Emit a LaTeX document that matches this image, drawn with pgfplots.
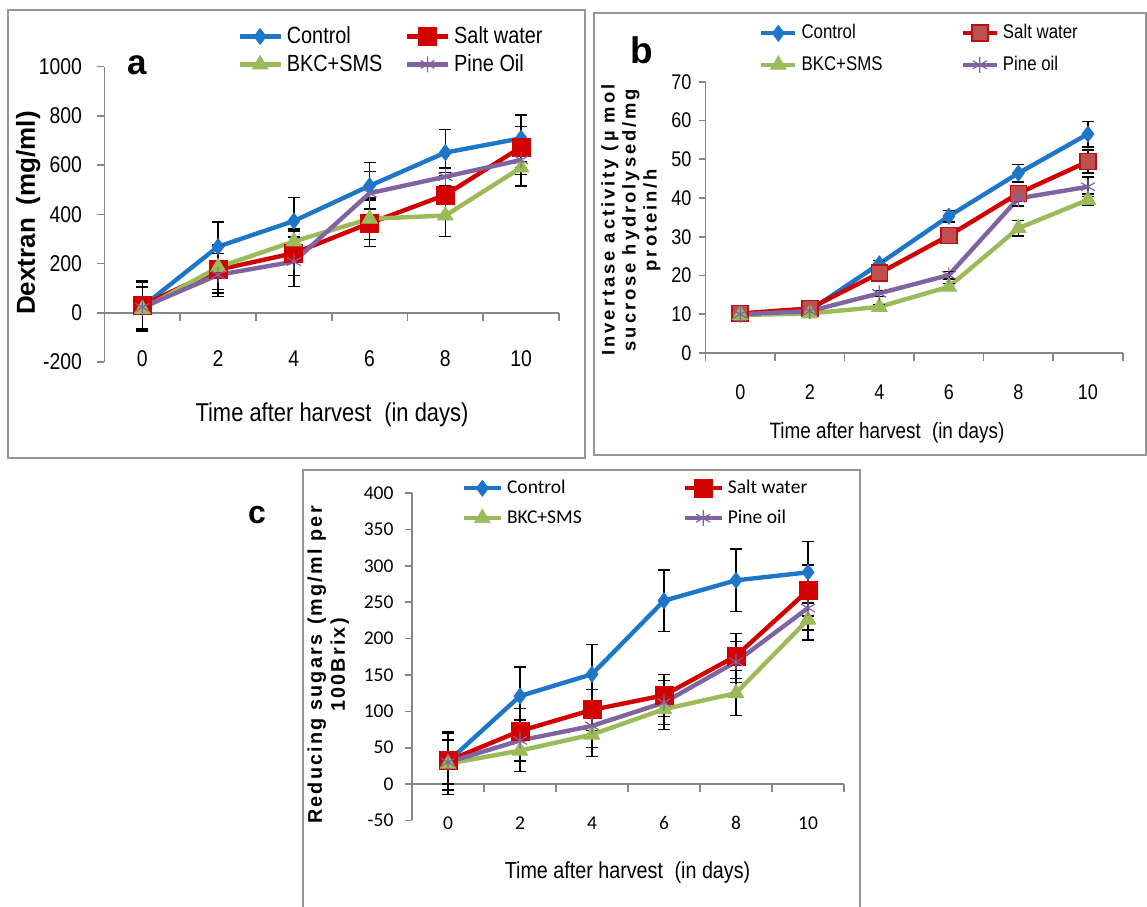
\documentclass[border=0pt]{standalone}
\usepackage{fontspec}
\setmainfont{Liberation Sans}
\newfontfamily\narrow[FakeStretch=0.85]{Liberation Sans}
\newfontfamily\calib{Carlito}
\newfontfamily\spaced[LetterSpace=16]{Liberation Sans}
\newfontfamily\spacedc[LetterSpace=11]{Liberation Sans}
\usepackage{pgfplots}
\usepackage{pgfplotstable}
\pgfplotsset{compat=1.18}

\definecolor{ctl}{RGB}{30,118,200}
\definecolor{salt}{RGB}{210,0,0}
\definecolor{saltfill}{RGB}{192,80,77}
\definecolor{saltdark}{RGB}{180,20,20}
\definecolor{bkc}{RGB}{155,187,89}
\definecolor{pine}{RGB}{128,100,162}
\definecolor{axgray}{RGB}{134,134,134}
\definecolor{framegray}{RGB}{150,150,150}

% day, value, error for each treatment
\pgfplotstableread{
x ctl ectl salt esalt bkc ebkc pine epine
0  25 100  30 100  15  90  22  86
2 269 100 175  95 185  90 154  88
4 373  95 242  90 290  50 208 100
6 516  95 364  95 382  85 486  87
8 651  95 479  90 395  85 553  35
10 709 95 673  85 590  75 621  60
}\dataA

\pgfplotstableread{
x ctl ectl salt esalt bkc ebkc pine epine
0  10.0 0.5 10.2 0.5  9.8 0.5 10.0 0.5
2  11.0 0.5 11.5 0.6 10.2 0.5 10.8 0.5
4  23.0 0.8 20.6 0.8 11.9 0.6 15.4 0.8
6  35.3 1.5 30.3 2.0 17.1 0.8 20.1 1.0
8  46.4 2.3 41.2 2.0 32.2 2.0 39.9 2.0
10 56.5 3.3 49.4 3.0 39.5 1.5 42.9 2.5
}\dataB

\pgfplotstableread{
x ctl ectl salt esalt bkc ebkc pine epine
0  31  30  32  40  28  42  30  30
2  121 40  73  31  46  29  60  28
4  151 41 102  28  68  30  80  30
6  252 42 122  29 103  28 112  30
8  280 43 176  31 125  31 168  28
10 291 42 266  35 226  28 242  30
}\dataC

\pgfplotsset{
  ctlS/.style={color=ctl, line width=2.2pt, mark=diamond*, mark size=4pt,
    mark options={fill=ctl, draw=ctl, line width=0.4pt}},
  saltS/.style={color=salt, line width=2.2pt, mark=square*, mark size=4.5pt,
    mark options={fill=salt, draw=salt, line width=0.4pt}},
  saltB/.style={color=salt, line width=2.2pt, mark=square*, mark size=4pt,
    mark options={fill=saltfill, draw=saltdark, line width=0.8pt}},
  bkcS/.style={color=bkc, line width=2.2pt, mark=triangle*, mark size=4.5pt,
    mark options={fill=bkc, draw=bkc, line width=0.4pt}},
  pineS/.style={color=pine, line width=2.2pt, mark=asterisk, mark size=4pt,
    mark options={draw=pine, line width=0.6pt}},
  eb/.style={error bars/.cd, y dir=both, y explicit,
    error bar style={black, line width=0.7pt},
    error mark options={black, rotate=90, mark size=3pt, line width=0.7pt}},
  base/.style={scale only axis, clip=false, anchor=south west,
    xmin=-1, xmax=11, xtick={0,2,...,10},
    axis y line*=left, axis x line*=bottom,
    x axis line style={draw=none}, xtick style={draw=none},
    y axis line style={axgray, line width=0.8pt},
    ytick style={axgray, line width=0.8pt},
    major tick length=3.5pt, tick align=outside,
    scaled y ticks=false,
    /pgf/number format/assume math mode=true,
    /pgf/number format/1000 sep={},
    xticklabel style={anchor=center},
    legend columns=2, legend cell align=left,
    legend style={draw=none, fill=none, anchor=north west, inner sep=0pt, outer sep=0pt}},
}

\begin{document}
\begin{tikzpicture}
\useasboundingbox (0,0) rectangle (573.5pt,453pt);
% panel frames
\draw[framegray, line width=1pt] (4pt,224pt) rectangle (292.5pt,448pt);
\draw[framegray, line width=1pt] (297pt,225.5pt) rectangle (573pt,446.5pt);
\draw[framegray, line width=1pt] (151.5pt,-1pt) -- (151.5pt,218pt) -- (430pt,218pt) -- (430pt,-1pt);

% ---------------- panel a
\begin{axis}[base, at={(52.25pt,272pt)}, width=227.25pt, height=147.65pt,
  ymin=-200, ymax=1000, ytick={-200,0,...,1000},
  yticklabel style={font=\narrow\fontsize{11.4}{13}\selectfont, xshift=-4.2pt},
  xticklabel style={font=\narrow\fontsize{11.4}{13}\selectfont, yshift=5pt},
  xlabel={Time after harvest\enspace(in days)},
  xlabel style={font=\narrow\fontsize{12.9}{15}\selectfont, at={(axis description cs:0.5005,-0.1795)}, anchor=center},
  ylabel={Dextran\enspace(mg/ml)},
  ylabel style={font=\bfseries\fontsize{13}{15}\selectfont, at={(axis description cs:-0.168,0.5046)}, anchor=center},
  legend style={at={(axis description cs:0.2924,1.1497)}, font=\narrow\fontsize{11.7}{13}\selectfont,
    /tikz/every even column/.append style={column sep=0pt}},
  legend image code/.code={\draw[mark repeat=2,mark phase=2] plot coordinates {(0pt,0pt)(10.25pt,0pt)(20.5pt,0pt)};}]
\draw[axgray, line width=0.8pt] (axis cs:-1,0) -- (axis cs:11,0);
\draw[axgray, line width=0.8pt] (axis cs:-1,0) -- ++(0pt,-4pt) (axis cs:1,0) -- ++(0pt,-4pt) (axis cs:3,0) -- ++(0pt,-4pt)
  (axis cs:5,0) -- ++(0pt,-4pt) (axis cs:7,0) -- ++(0pt,-4pt) (axis cs:9,0) -- ++(0pt,-4pt) (axis cs:11,0) -- ++(0pt,-4pt);
\addplot[ctlS, eb] table[x=x, y=ctl, y error=ectl] {\dataA};
\addlegendentry{\makebox[57pt][l]{Control}}
\addplot[saltS, eb] table[x=x, y=salt, y error=esalt] {\dataA};
\addlegendentry{Salt water}
\addplot[bkcS, eb] table[x=x, y=bkc, y error=ebkc] {\dataA};
\addlegendentry{\makebox[57pt][l]{BKC+SMS}}
\addplot[pineS, eb] table[x=x, y=pine, y error=epine] {\dataA};
\addlegendentry{Pine Oil}
\end{axis}

% ---------------- panel b
\begin{axis}[base, at={(352.75pt,276.5pt)}, width=208.6pt, height=135.65pt,
  ymin=0, ymax=70, ytick={0,10,...,70},
  yticklabel style={font=\narrow\fontsize{10.6}{12}\selectfont, xshift=0pt},
  xticklabel style={font=\narrow\fontsize{10.6}{12}\selectfont, yshift=-16pt},
  xlabel={Time after harvest\enspace(in days)},
  xlabel style={font=\narrow\fontsize{11.1}{13}\selectfont, at={(axis description cs:0.435,-0.295)}, anchor=center},
  ylabel={Invertase activity (µ mol\\sucrose hydrolysed/mg\\protein/h},
  ylabel style={font=\spaced\bfseries\fontsize{9.2}{10.5}\selectfont, align=center, at={(axis description cs:-0.1786,0.49)}, anchor=center},
  legend style={at={(axis description cs:0.1287,1.2252)}, font=\narrow\fontsize{9.9}{12}\selectfont,
    /tikz/every even column/.append style={column sep=0pt}, row sep=3.1pt},
  legend image code/.code={\draw[mark repeat=2,mark phase=2] plot coordinates {(0pt,0pt)(8.5pt,0pt)(17pt,0pt)};}]
\draw[axgray, line width=0.8pt] (axis cs:-1,0) -- (axis cs:11,0);
\draw[axgray, line width=0.8pt] (axis cs:-1,0) -- ++(0pt,-4pt) (axis cs:1,0) -- ++(0pt,-4pt) (axis cs:3,0) -- ++(0pt,-4pt)
  (axis cs:5,0) -- ++(0pt,-4pt) (axis cs:7,0) -- ++(0pt,-4pt) (axis cs:9,0) -- ++(0pt,-4pt) (axis cs:11,0) -- ++(0pt,-4pt);
\addplot[ctlS, eb] table[x=x, y=ctl, y error=ectl] {\dataB};
\addlegendentry{\makebox[77.5pt][l]{Control}}
\addplot[saltB, eb] table[x=x, y=salt, y error=esalt] {\dataB};
\addlegendentry{Salt water}
\addplot[bkcS, eb] table[x=x, y=bkc, y error=ebkc] {\dataB};
\addlegendentry{\makebox[77.5pt][l]{BKC+SMS}}
\addplot[pineS, eb] table[x=x, y=pine, y error=epine] {\dataB};
\addlegendentry{Pine oil}
\end{axis}

% ---------------- panel c
\begin{axis}[base, at={(206pt,42.75pt)}, width=216pt, height=163.75pt,
  ymin=-50, ymax=400, ytick={-50,0,...,400},
  yticklabel style={font=\calib\fontsize{9.75}{12}\selectfont, xshift=-2.25pt},
  xticklabel style={font=\calib\fontsize{9.75}{12}\selectfont, yshift=2.25pt},
  xlabel={Time after harvest\enspace(in days)},
  xlabel style={font=\narrow\fontsize{11.6}{14}\selectfont, at={(axis description cs:0.499,-0.16)}, anchor=center},
  ylabel={Reducing sugars\enspace(mg/ml per\\100Brix)},
  ylabel style={font=\spacedc\bfseries\fontsize{9.9}{11.5}\selectfont, align=center, at={(axis description cs:-0.194,0.475)}, anchor=center},
  legend style={at={(axis description cs:0.115,1.052)}, font=\calib\fontsize{9.75}{12}\selectfont,
    /tikz/every even column/.append style={column sep=0pt}, row sep=2.7pt},
  legend image code/.code={\draw[mark repeat=2,mark phase=2] plot coordinates {(0pt,0pt)(9.25pt,0pt)(18.5pt,0pt)};}]
\draw[axgray, line width=0.8pt] (axis cs:-1,0) -- (axis cs:11,0);
\draw[axgray, line width=0.8pt] (axis cs:-1,0) -- ++(0pt,-4pt) (axis cs:1,0) -- ++(0pt,-4pt) (axis cs:3,0) -- ++(0pt,-4pt)
  (axis cs:5,0) -- ++(0pt,-4pt) (axis cs:7,0) -- ++(0pt,-4pt) (axis cs:9,0) -- ++(0pt,-4pt) (axis cs:11,0) -- ++(0pt,-4pt);
\addplot[ctlS, eb] table[x=x, y=ctl, y error=ectl] {\dataC};
\addlegendentry{\makebox[85.7pt][l]{Control}}
\addplot[saltS, eb] table[x=x, y=salt, y error=esalt] {\dataC};
\addlegendentry{Salt water}
\addplot[bkcS, eb] table[x=x, y=bkc, y error=ebkc] {\dataC};
\addlegendentry{\makebox[85.7pt][l]{BKC+SMS}}
\addplot[pineS, eb] table[x=x, y=pine, y error=epine] {\dataC};
\addlegendentry{Pine oil}
\end{axis}

% panel letters
\node[font=\bfseries\fontsize{17.5}{20}\selectfont] at (68.5pt,420.5pt) {a};
\node[font=\bfseries\fontsize{18.5}{20}\selectfont] at (321pt,428pt) {b};
\node[font=\bfseries\fontsize{16}{18}\selectfont] at (128.5pt,195.5pt) {c};
\end{tikzpicture}
\end{document}
